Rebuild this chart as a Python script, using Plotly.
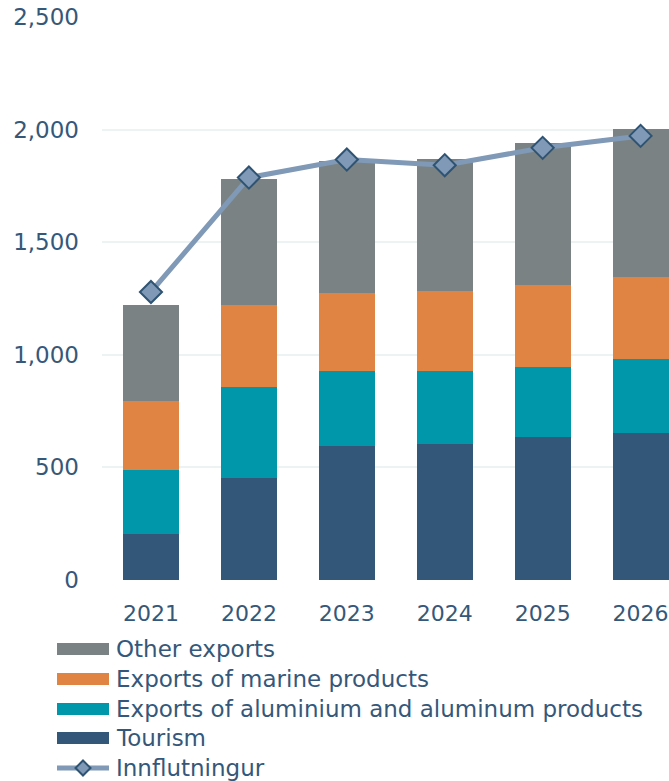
import plotly.graph_objects as go

# Export components and imports, 2021-2026
years = ["2021", "2022", "2023", "2024", "2025", "2026"]
tourism = [206, 455, 597, 606, 633, 651]
aluminium = [284, 401, 330, 321, 311, 329]
marine = [303, 364, 346, 355, 364, 364]
other = [427, 560, 587, 587, 632, 658]
imports = [1279, 1787, 1867, 1842, 1919, 1972]

series_names = [
    "Other exports",
    "Exports of marine products",
    "Exports of aluminium and aluminum products",
    "Tourism",
    "Innflutningur",
]

C_TOUR = "#325779"
C_ALU = "#0097AA"
C_MAR = "#E08443"
C_OTH = "#7A8284"
C_LINE = "#7F99B6"
C_EDGE = "#2F5473"
C_TEXT = "#35587A"
FONT = "DejaVu Sans"

W, H = 669, 781
ML, MR, MT, MB = 102, 0, 17, 201
PW, PH = W - ML - MR, H - MT - MB

fig = go.Figure()
for name, vals, col in [
    ("Tourism", tourism, C_TOUR),
    ("Exports of aluminium and aluminum products", aluminium, C_ALU),
    ("Exports of marine products", marine, C_MAR),
    ("Other exports", other, C_OTH),
]:
    fig.add_trace(go.Bar(x=years, y=vals, name=name, marker=dict(color=col, line=dict(width=0))))

fig.add_trace(go.Scatter(
    x=years, y=imports, name="Innflutningur", mode="lines+markers",
    line=dict(color=C_LINE, width=5),
    marker=dict(symbol="diamond", size=17, color=C_LINE, line=dict(color=C_EDGE, width=2)),
    cliponaxis=False,
))

# Hand-built legend below the plot area (pixel -> paper conversion)
def px(x):
    return (x - ML) / PW

def py(y):
    return (H - MB - y) / PH

shapes = []
annotations = []
legend_colors = [C_OTH, C_MAR, C_ALU, C_TOUR]
row_y = [649, 679, 709, 738, 768]
for i, name in enumerate(series_names):
    yc = row_y[i]
    if i < 4:
        shapes.append(dict(type="rect", xref="paper", yref="paper",
                           x0=px(57), x1=px(109), y0=py(yc + 6), y1=py(yc - 6),
                           fillcolor=legend_colors[i], line=dict(width=0)))
    else:
        shapes.append(dict(type="line", xref="paper", yref="paper",
                           x0=px(57), x1=px(109), y0=py(yc), y1=py(yc),
                           line=dict(color=C_LINE, width=5)))
        d = 7.5
        path = (f"M {px(83)},{py(yc - d)} L {px(83 + d)},{py(yc)} "
                f"L {px(83)},{py(yc + d)} L {px(83 - d)},{py(yc)} Z")
        shapes.append(dict(type="path", xref="paper", yref="paper", path=path,
                           fillcolor=C_LINE, line=dict(color=C_EDGE, width=2)))
    annotations.append(dict(text=name, xref="paper", yref="paper",
                            x=px(114), y=py(yc), xanchor="left", yanchor="middle",
                            showarrow=False, font=dict(family=FONT, size=23, color=C_TEXT)))

fig.update_layout(
    width=W, height=H,
    margin=dict(l=ML, r=MR, t=MT, b=MB),
    barmode="stack", bargap=0.43,
    plot_bgcolor="white", paper_bgcolor="white",
    showlegend=False,
    font=dict(family=FONT, color=C_TEXT),
    shapes=shapes, annotations=annotations,
    xaxis=dict(type="category", range=[-0.5, 5.29], showgrid=False, zeroline=False,
               showline=False, ticks="", ticklabelstandoff=18,
               tickfont=dict(family=FONT, size=22, color=C_TEXT)),
    yaxis=dict(range=[0, 2500], tickvals=[0, 500, 1000, 1500, 2000, 2500],
               tickformat=",d", showgrid=True, gridcolor="#EDF3F3", gridwidth=1.5,
               zeroline=False, showline=False, ticks="", ticklabelstandoff=22,
               tickfont=dict(family=FONT, size=23, color=C_TEXT)),
)

fig.write_html("out.html")
